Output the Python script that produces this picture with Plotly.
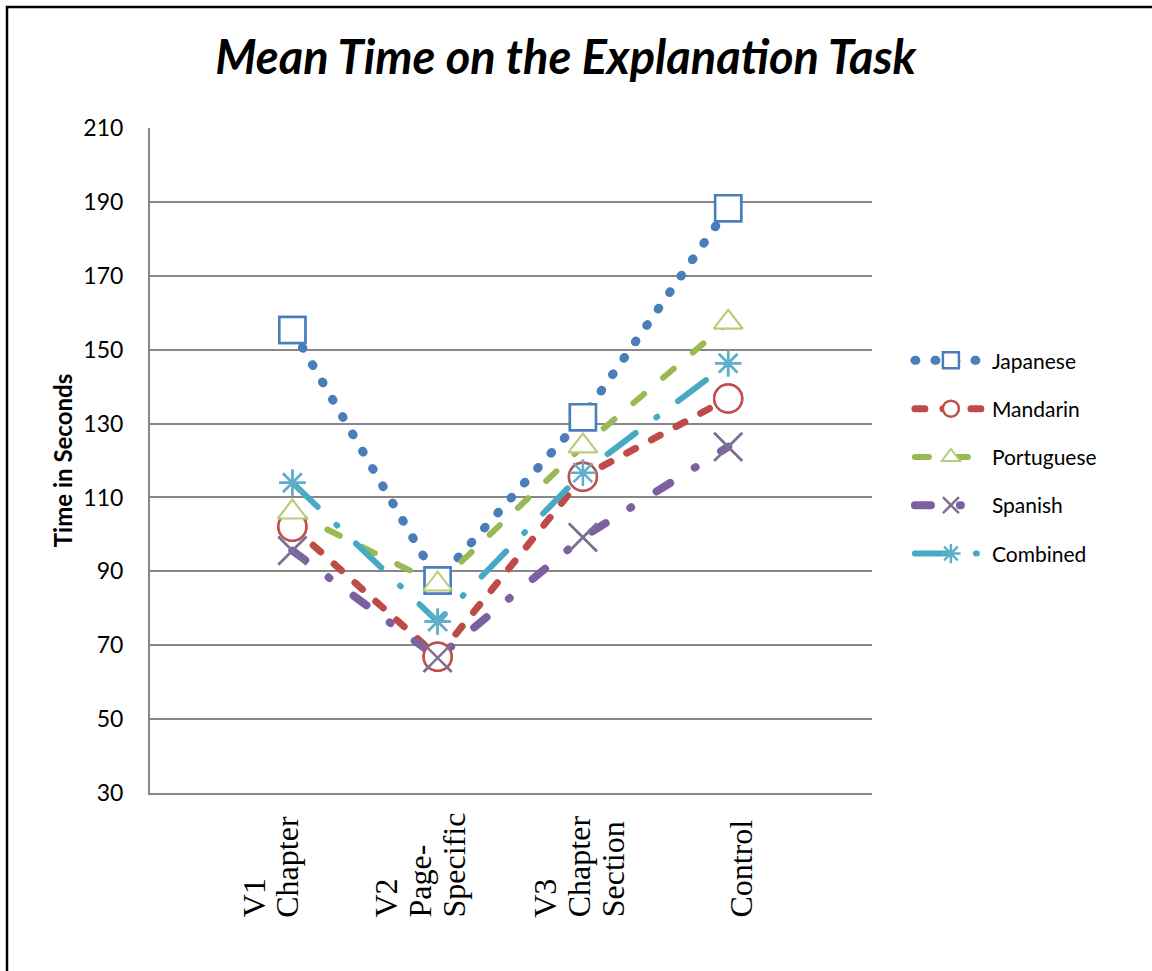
import plotly.graph_objects as go

categories = ["V1 Chapter", "V2 Page-Specific", "V3 Chapter Section", "Control"]
tick_labels = ["V1<br>Chapter", "V2<br>Page-<br>Specific", "V3<br>Chapter<br>Section", "Control"]

series_names = ["Japanese", "Mandarin", "Portuguese", "Spanish", "Combined"]
japanese = [155.3, 87.5, 131.7, 188.3]
mandarin = [102.1, 66.9, 115.6, 136.8]
portuguese = [106.0, 86.5, 123.9, 157.4]
spanish = [95.6, 66.6, 99.2, 123.7]
combined = [114.0, 76.4, 116.7, 146.3]

y_ticks = [30, 50, 70, 90, 110, 130, 150, 170, 190, 210]

styles = {
    "Japanese": dict(color="#4A7EBB", width=9, dash="1px,19px", symbol="square",
                     size=26, fill="white", mline="#4A7EBB", mw=2.5),
    "Mandarin": dict(color="#BE4B48", width=7, dash="10px,18px", symbol="circle",
                     size=28, fill="white", mline="#C0504D", mw=2.5),
    "Portuguese": dict(color="#98B954", width=6, dash="14px,25px", symbol="triangle-up",
                       size=25, fill="white", mline="#B9CC7A", mw=2),
    "Spanish": dict(color="#7D60A0", width=8, dash="16px,29px,1px,30px", symbol="x-thin-open",
                    size=28, fill="#7B7096", mline="#7B7096", mw=2.5),
    "Combined": dict(color="#46AAC5", width=6, dash="35px,26px,1px,26px", symbol="asterisk-open",
                     size=22, fill="#5FAFCB", mline="#5FAFCB", mw=2.5),
}

values = {"Japanese": japanese, "Mandarin": mandarin, "Portuguese": portuguese,
          "Spanish": spanish, "Combined": combined}

label_xshift = [-22, -18, -4, 13]
label_line_gap = 34

font_main = "Lato, 'Open Sans', sans-serif"

def marker_of(s):
    return dict(symbol=s["symbol"], size=s["size"], color=s["fill"],
                line=dict(color=s["mline"], width=s["mw"]))

fig = go.Figure()
# lines (with legend entries)
for name in series_names:
    s = styles[name]
    fig.add_trace(go.Scatter(
        x=categories, y=values[name], name=name, mode="lines+markers",
        legendgroup=name,
        line=dict(color=s["color"], width=s["width"], dash=s["dash"]),
        marker=marker_of(s),
    ))
# markers on top of all lines
for name in series_names:
    s = styles[name]
    fig.add_trace(go.Scatter(
        x=categories, y=values[name], name=name, mode="markers",
        legendgroup=name, showlegend=False,
        marker=marker_of(s),
    ))

annotations = []
for cat, lab, dx in zip(categories, tick_labels, label_xshift):
    lines = lab.split("<br>")
    n = len(lines)
    for i, ln in enumerate(lines):
        annotations.append(dict(
            x=cat, xref="x", y=-0.19, yref="paper", text=ln, showarrow=False,
            textangle=-90, xanchor="center", yanchor="bottom",
            xshift=dx + (i - (n - 1) / 2) * label_line_gap,
            font=dict(family="'Liberation Serif', 'Times New Roman', serif", size=32, color="black"),
        ))

fig.update_layout(
    width=1152, height=971,
    margin=dict(l=150, r=280, t=128, b=178),
    paper_bgcolor="white", plot_bgcolor="white",
    title=dict(text="<b><i>Mean Time on the Explanation Task</i></b>",
               x=0.491, xanchor="center", y=1 - 58 / 971, yanchor="middle", yref="container",
               font=dict(family=font_main, size=47, color="black")),
    xaxis=dict(type="category", range=[-0.98, 3.99], showticklabels=False,
               showgrid=False, showline=True, linecolor="#878787", linewidth=2,
               ticks="", zeroline=False),
    yaxis=dict(range=[30, 210], tickvals=y_ticks, showgrid=True, gridcolor="#878787",
               gridwidth=2, showline=True, linecolor="#878787", linewidth=2,
               ticks="", zeroline=False, ticklabelstandoff=20,
               tickfont=dict(family=font_main, size=23, color="black"),
               title=dict(text="<b>Time in Seconds</b>", standoff=4,
                          font=dict(family=font_main, size=24, color="black"))),
    legend=dict(x=1.0525, xanchor="left", y=0.505, yanchor="middle",
                itemwidth=72, tracegroupgap=18, traceorder="grouped",
                font=dict(family=font_main, size=21, color="black"),
                bgcolor="rgba(0,0,0,0)"),
    annotations=annotations,
    shapes=[dict(type="rect", xref="paper", yref="paper",
                 x0=(7 - 150) / 722, x1=1.6, y0=-0.5, y1=(793 - 7) / 665,
                 line=dict(color="black", width=2.5), fillcolor="rgba(0,0,0,0)", layer="below")],
)

post = ("var s=document.createElement('style');"
        "s.textContent='.js-line{stroke-linecap:round;} body{margin:0 !important;}';"
        "document.head.appendChild(s);")

fig.write_html("out.html", post_script=post, config={"displayModeBar": False})
